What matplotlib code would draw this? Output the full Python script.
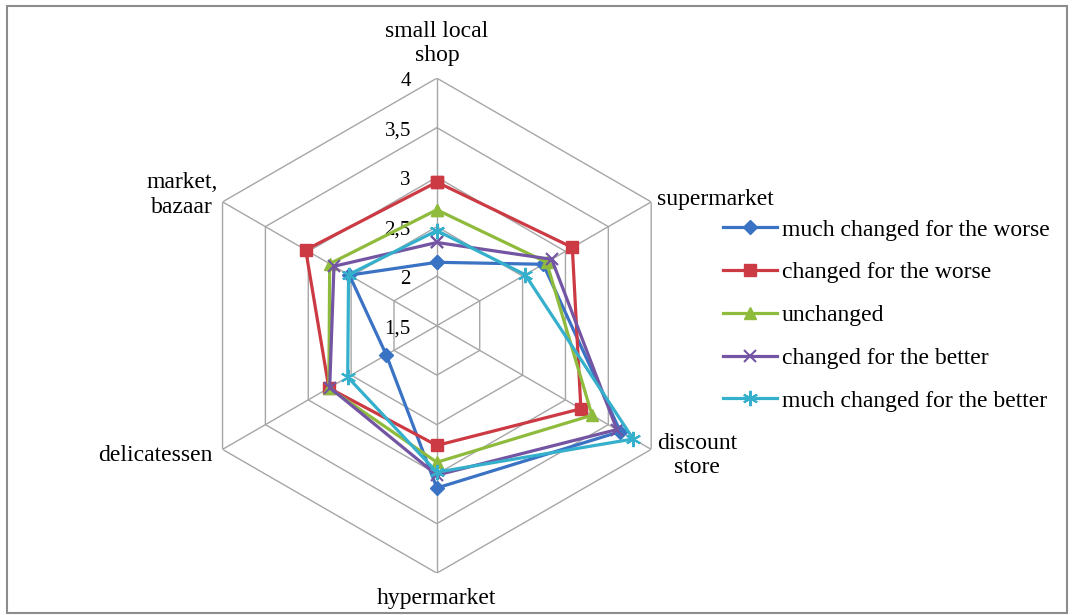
import numpy as np
import matplotlib
matplotlib.use("Agg")
import matplotlib.pyplot as plt
from matplotlib.patches import Rectangle

plt.rcParams['font.family'] = ['Liberation Serif', 'DejaVu Serif']

categories = ["small local\nshop", "supermarket", "discount\nstore",
              "hypermarket", "delicatessen", "market,\nbazaar"]
series_names = ["much changed for the worse", "changed for the worse",
                "unchanged", "changed for the better",
                "much changed for the better"]

much_worse = [2.14, 2.74, 3.64, 3.14, 2.09, 2.52]
worse = [2.95, 3.08, 3.18, 2.71, 2.76, 3.03]
unchanged = [2.67, 2.78, 3.31, 2.88, 2.76, 2.75]
better = [2.34, 2.84, 3.60, 3.01, 2.75, 2.70]
much_better = [2.46, 2.53, 3.79, 2.98, 2.54, 2.53]

levels = [1.5, 2, 2.5, 3, 3.5, 4]
level_labels = ["1,5", "2", "2,5", "3", "3,5", "4"]

colors = ["#3a72c4", "#cc3a44", "#8fbb3c", "#7355a3", "#35b0cc"]
markers = ["D", "s", "^", "x", (6, 2, 0)]
msizes = [7, 9, 8, 8, 11]

fig = plt.figure(figsize=(10.76, 6.15), dpi=100)
fig.patches.append(Rectangle((7 / 1076, 1 - 613 / 615), 1060 / 1076, 607 / 615,
                             transform=fig.transFigure, fill=False,
                             edgecolor="#8c8c8c", linewidth=1.5))

ax = fig.add_axes([0.176, 0.068, 0.460, 0.805], projection="polar")
ax.set_theta_offset(np.pi / 2)
ax.set_theta_direction(-1)
ax.set_ylim(levels[0], levels[-1])
ax.grid(False)
ax.set_xticks([])
ax.set_yticks([])
ax.spines["polar"].set_visible(False)
ax.patch.set_alpha(0)

angles = np.linspace(0, 2 * np.pi, len(categories), endpoint=False)
closed = np.append(angles, angles[0])

# hexagonal grid rings and spokes
for lvl in levels[1:]:
    ax.plot(closed, [lvl] * len(closed), color="#a6a6a6", lw=1.0, zorder=1)
for a in angles:
    ax.plot([a, a], [levels[0], levels[-1]], color="#a6a6a6", lw=1.0, zorder=1)

for lvl, lab in zip(levels, level_labels):
    ax.annotate(lab, xy=(0, lvl), xytext=(-26, -3), textcoords="offset pixels",
                ha="right", va="center", fontsize=15)

all_series = [much_worse, worse, unchanged, better, much_better]
handles = []
for i, vals in enumerate(all_series):
    v = np.append(vals, vals[0])
    h, = ax.plot(closed, v, color=colors[i], lw=2.3, marker=markers[i],
                 markersize=msizes[i], markeredgewidth=1.5 if i >= 3 else 1,
                 label=series_names[i], zorder=3 + i, clip_on=False)
    handles.append(h)

label_pos = [
    ((0, 12), "center", "bottom"),
    ((6, 2), "left", "center"),
    ((6, -6), "left", "center"),
    ((0, -15), "center", "top"),
    ((-10, -6), "right", "center"),
    ((-5, 7), "right", "center"),
]
for a, cat, (off, ha, va) in zip(angles, categories, label_pos):
    ax.annotate(cat, xy=(a, levels[-1]), xytext=off, textcoords="offset pixels",
                ha=ha, va=va, multialignment="center", fontsize=17,
                linespacing=1.2)

fig.legend(handles=handles, loc="upper left",
           bbox_to_anchor=(723 / 1076, 1 - 219 / 615), frameon=False,
           fontsize=17, handlelength=2.3, handletextpad=0.2,
           labelspacing=0.9, borderpad=0, borderaxespad=0)

fig.savefig("out.png", dpi=100)
